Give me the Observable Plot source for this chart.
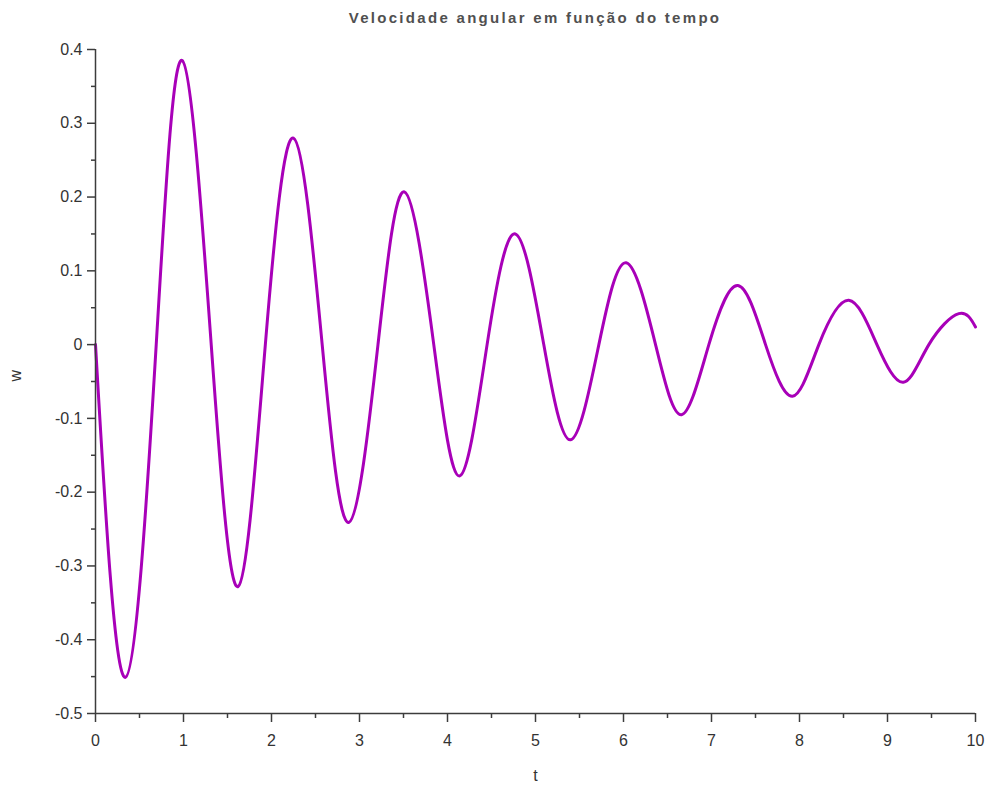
<!DOCTYPE html>
<html>
<head>
<meta charset="utf-8">
<script src="https://cdn.jsdelivr.net/npm/d3@7"></script>
<script src="https://cdn.jsdelivr.net/npm/@observablehq/plot@0.6"></script>
<style>
  body { margin: 0; background: #fff; }
  #title {
    height: 30px; width: 880px; padding-left: 95px;
    line-height: 36px; text-align: center;
    font-family: "Liberation Sans", Arial, sans-serif; font-size: 15px; font-weight: bold;
    letter-spacing: 2.3px; color: #505050; white-space: nowrap;
  }
  #chart svg { display: block; }
</style>
</head>
<body>
<div id="title">Velocidade angular em função do tempo</div>
<div id="chart"></div>
<script>
// Time samples (extrema and zero crossings)
const tValues = [0, 0.34, 0.69, 0.985, 1.315, 1.62, 1.93, 2.25, 2.576, 2.88, 3.21, 3.51, 3.844, 4.14, 4.45, 4.77, 5.094, 5.40, 5.72, 6.03, 6.364, 6.66, 6.97, 7.30, 7.614, 7.92, 8.22, 8.56, 8.88, 9.18, 9.47, 9.81, 10];
// Angular velocity w at those times
const wValues = [0, -0.451, 0, 0.385, 0, -0.328, 0, 0.28, 0, -0.241, 0, 0.207, 0, -0.178, 0, 0.150, 0, -0.129, 0, 0.111, 0, -0.095, 0, 0.080, 0, -0.070, 0, 0.060, 0, -0.051, 0, 0.042, 0.024];

const xTicks = [0, 1, 2, 3, 4, 5, 6, 7, 8, 9, 10];
const xMinorTicks = [0.5, 1.5, 2.5, 3.5, 4.5, 5.5, 6.5, 7.5, 8.5, 9.5];
const yTicks = [0.4, 0.3, 0.2, 0.1, 0, -0.1, -0.2, -0.3, -0.4, -0.5];
const yMinorTicks = [0.35, 0.25, 0.15, 0.05, -0.05, -0.15, -0.25, -0.35, -0.45];
const xLabel = ["t"];
const yLabel = ["w"];

const data = tValues.map((t, i) => ({t, w: wValues[i]}));

const axisColor = "#3c3c3c";
const lineColor = "#a800b8";

const chart = Plot.plot({
  width: 991,
  height: 760,
  marginTop: 19,
  marginBottom: 77,
  marginLeft: 95,
  marginRight: 16,
  style: {fontFamily: "Liberation Sans, Arial, sans-serif", fontSize: "16px", color: "#333", background: "#fff"},
  x: {domain: [0, 10]},
  y: {domain: [-0.5, 0.4]},
  marks: [
    Plot.line(data, {x: "t", y: "w", stroke: lineColor, strokeWidth: 3, curve: "natural"}),
    Plot.ruleX([0], {stroke: axisColor, strokeWidth: 1.5}),
    Plot.ruleY([-0.5], {stroke: axisColor, strokeWidth: 1.5}),
    Plot.axisY(yTicks, {tickSize: 8, tickPadding: 5, stroke: axisColor, strokeWidth: 1.5, tickFormat: d => String(d), label: null, fill: "#333"}),
    Plot.axisY(yMinorTicks, {tickSize: 4, stroke: axisColor, strokeWidth: 1.5, tickFormat: () => "", label: null}),
    Plot.axisX(xTicks, {tickSize: 9, tickPadding: 12, stroke: axisColor, strokeWidth: 1.5, tickFormat: d => String(d), label: null, fill: "#333"}),
    Plot.axisX(xMinorTicks, {tickSize: 5, stroke: axisColor, strokeWidth: 1.5, tickFormat: () => "", label: null}),
    Plot.text(xLabel, {text: d => d, frameAnchor: "bottom", dy: 67, fill: "#333", fontSize: 16}),
    Plot.text(yLabel, {text: d => d, frameAnchor: "left", dx: -80, rotate: -90, fill: "#333", fontSize: 16})
  ]
});
document.getElementById("chart").appendChild(chart);
</script>
</body>
</html>
